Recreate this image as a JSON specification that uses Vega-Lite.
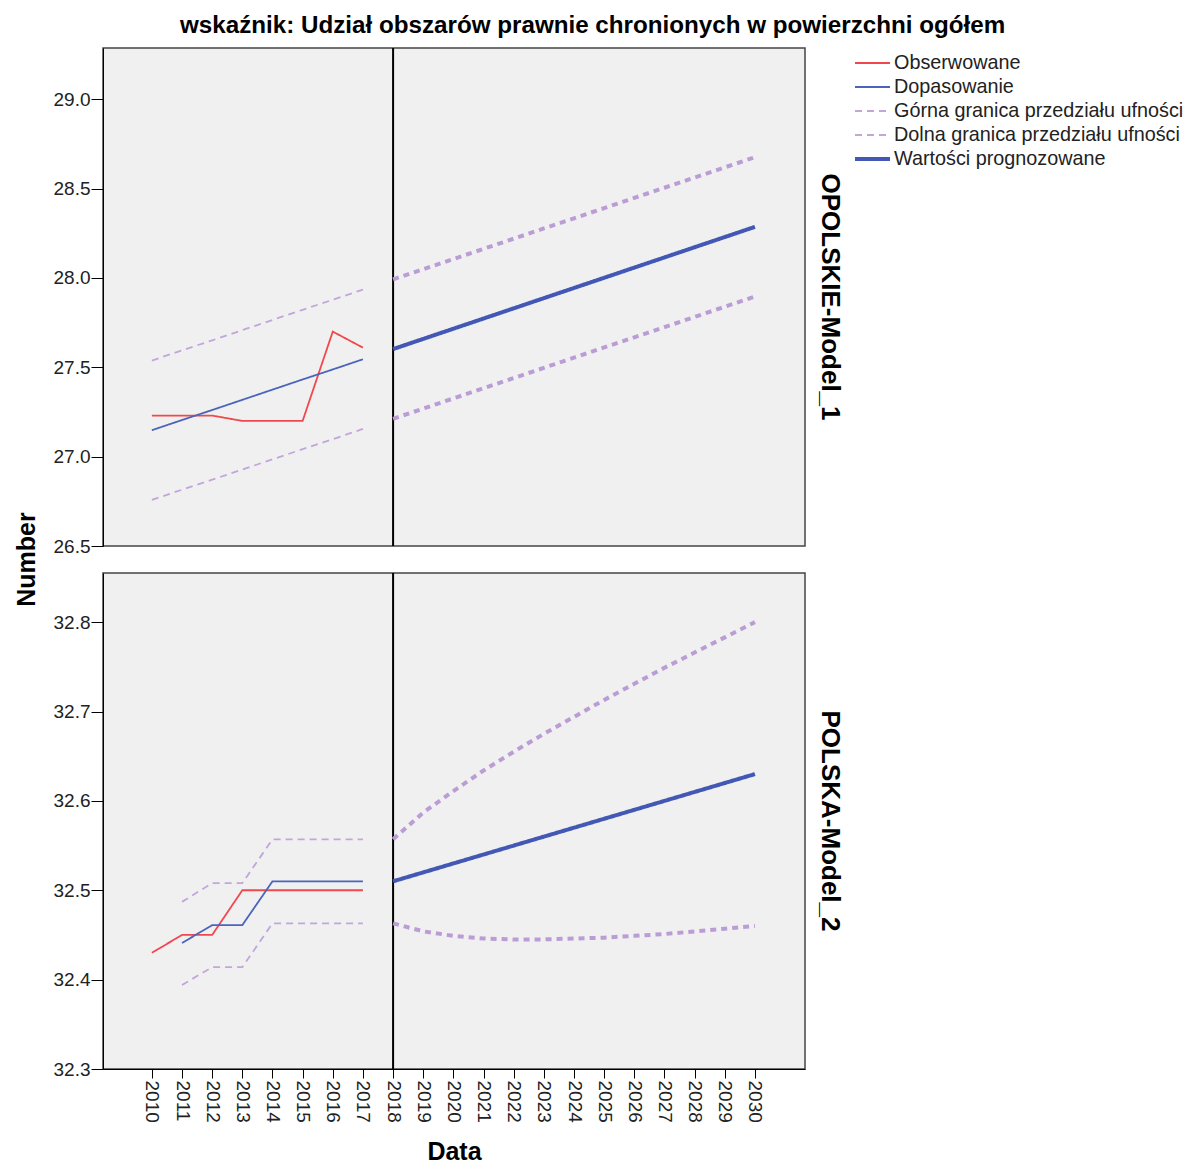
{
"$schema": "https://vega.github.io/schema/vega-lite/v6.json",
"padding": {"left": 13, "top": 14, "right": 2, "bottom": 0},
"background": "#ffffff",
"bounds": "flush",
"title": {"text": "wskaźnik: Udział obszarów prawnie chronionych w powierzchni ogółem", "font": "Liberation Sans", "fontSize": 24.2, "fontWeight": "bold", "color": "#000", "anchor": "middle", "offset": 8, "dx": -8},
"config": {
 "font": "Liberation Sans",
 "view": {"fill": "#f0f0f0", "stroke": "#444", "strokeWidth": 1.5},
 "axis": {"labelFont": "Liberation Sans", "labelFontSize": 19, "labelColor": "#222", "tickColor": "#000", "tickSize": 9, "domainColor": "#000", "titleFont": "Liberation Sans", "titleFontSize": 25, "titleFontWeight": "bold", "titleColor": "#000", "grid": false, "labelPadding": 2},
 "legend": {"orient": "right", "offset": 5, "labelFont": "Liberation Sans", "labelFontSize": 19.8, "labelColor": "#222", "symbolType": "stroke", "symbolSize": 1225, "clipHeight": 22, "rowPadding": 2, "labelOffset": 2, "padding": 4, "labelLimit": 400},
 "title": {"font": "Liberation Sans"}
},
"datasets": {"d": [
 {"p":1,"s":"Obserwowane","year":2010,"v":27.23},{"p":1,"s":"Obserwowane","year":2011,"v":27.23},{"p":1,"s":"Obserwowane","year":2012,"v":27.23},{"p":1,"s":"Obserwowane","year":2013,"v":27.2},{"p":1,"s":"Obserwowane","year":2014,"v":27.2},{"p":1,"s":"Obserwowane","year":2015,"v":27.2},{"p":1,"s":"Obserwowane","year":2016,"v":27.7},{"p":1,"s":"Obserwowane","year":2017,"v":27.61},
 {"p":1,"s":"Dopasowanie","year":2010,"v":27.148},{"p":1,"s":"Dopasowanie","year":2011,"v":27.205},{"p":1,"s":"Dopasowanie","year":2012,"v":27.261},{"p":1,"s":"Dopasowanie","year":2013,"v":27.318},{"p":1,"s":"Dopasowanie","year":2014,"v":27.375},{"p":1,"s":"Dopasowanie","year":2015,"v":27.432},{"p":1,"s":"Dopasowanie","year":2016,"v":27.488},{"p":1,"s":"Dopasowanie","year":2017,"v":27.545},
 {"p":1,"s":"Górna granica przedziału ufności","year":2010,"v":27.538},{"p":1,"s":"Górna granica przedziału ufności","year":2011,"v":27.595},{"p":1,"s":"Górna granica przedziału ufności","year":2012,"v":27.651},{"p":1,"s":"Górna granica przedziału ufności","year":2013,"v":27.708},{"p":1,"s":"Górna granica przedziału ufności","year":2014,"v":27.765},{"p":1,"s":"Górna granica przedziału ufności","year":2015,"v":27.822},{"p":1,"s":"Górna granica przedziału ufności","year":2016,"v":27.878},{"p":1,"s":"Górna granica przedziału ufności","year":2017,"v":27.935},
 {"p":1,"s":"Dolna granica przedziału ufności","year":2010,"v":26.758},{"p":1,"s":"Dolna granica przedziału ufności","year":2011,"v":26.815},{"p":1,"s":"Dolna granica przedziału ufności","year":2012,"v":26.871},{"p":1,"s":"Dolna granica przedziału ufności","year":2013,"v":26.928},{"p":1,"s":"Dolna granica przedziału ufności","year":2014,"v":26.985},{"p":1,"s":"Dolna granica przedziału ufności","year":2015,"v":27.042},{"p":1,"s":"Dolna granica przedziału ufności","year":2016,"v":27.098},{"p":1,"s":"Dolna granica przedziału ufności","year":2017,"v":27.155},
 {"p":1,"s":"Wartości prognozowane","year":2018,"v":27.602},{"p":1,"s":"Wartości prognozowane","year":2019,"v":27.659},{"p":1,"s":"Wartości prognozowane","year":2020,"v":27.716},{"p":1,"s":"Wartości prognozowane","year":2021,"v":27.773},{"p":1,"s":"Wartości prognozowane","year":2022,"v":27.83},{"p":1,"s":"Wartości prognozowane","year":2023,"v":27.887},{"p":1,"s":"Wartości prognozowane","year":2024,"v":27.944},{"p":1,"s":"Wartości prognozowane","year":2025,"v":28.001},{"p":1,"s":"Wartości prognozowane","year":2026,"v":28.058},{"p":1,"s":"Wartości prognozowane","year":2027,"v":28.115},{"p":1,"s":"Wartości prognozowane","year":2028,"v":28.172},{"p":1,"s":"Wartości prognozowane","year":2029,"v":28.229},{"p":1,"s":"Wartości prognozowane","year":2030,"v":28.286},
 {"p":1,"s":"fcU","year":2018,"v":27.992},{"p":1,"s":"fcU","year":2019,"v":28.049},{"p":1,"s":"fcU","year":2020,"v":28.106},{"p":1,"s":"fcU","year":2021,"v":28.163},{"p":1,"s":"fcU","year":2022,"v":28.22},{"p":1,"s":"fcU","year":2023,"v":28.277},{"p":1,"s":"fcU","year":2024,"v":28.334},{"p":1,"s":"fcU","year":2025,"v":28.391},{"p":1,"s":"fcU","year":2026,"v":28.448},{"p":1,"s":"fcU","year":2027,"v":28.505},{"p":1,"s":"fcU","year":2028,"v":28.562},{"p":1,"s":"fcU","year":2029,"v":28.619},{"p":1,"s":"fcU","year":2030,"v":28.676},
 {"p":1,"s":"fcL","year":2018,"v":27.212},{"p":1,"s":"fcL","year":2019,"v":27.269},{"p":1,"s":"fcL","year":2020,"v":27.326},{"p":1,"s":"fcL","year":2021,"v":27.383},{"p":1,"s":"fcL","year":2022,"v":27.44},{"p":1,"s":"fcL","year":2023,"v":27.497},{"p":1,"s":"fcL","year":2024,"v":27.554},{"p":1,"s":"fcL","year":2025,"v":27.611},{"p":1,"s":"fcL","year":2026,"v":27.668},{"p":1,"s":"fcL","year":2027,"v":27.725},{"p":1,"s":"fcL","year":2028,"v":27.782},{"p":1,"s":"fcL","year":2029,"v":27.839},{"p":1,"s":"fcL","year":2030,"v":27.896},
 {"p":2,"s":"Obserwowane","year":2010,"v":32.43},{"p":2,"s":"Obserwowane","year":2011,"v":32.45},{"p":2,"s":"Obserwowane","year":2012,"v":32.45},{"p":2,"s":"Obserwowane","year":2013,"v":32.5},{"p":2,"s":"Obserwowane","year":2014,"v":32.5},{"p":2,"s":"Obserwowane","year":2015,"v":32.5},{"p":2,"s":"Obserwowane","year":2016,"v":32.5},{"p":2,"s":"Obserwowane","year":2017,"v":32.5},
 {"p":2,"s":"Dopasowanie","year":2011,"v":32.441},{"p":2,"s":"Dopasowanie","year":2012,"v":32.461},{"p":2,"s":"Dopasowanie","year":2013,"v":32.461},{"p":2,"s":"Dopasowanie","year":2014,"v":32.51},{"p":2,"s":"Dopasowanie","year":2015,"v":32.51},{"p":2,"s":"Dopasowanie","year":2016,"v":32.51},{"p":2,"s":"Dopasowanie","year":2017,"v":32.51},
 {"p":2,"s":"Górna granica przedziału ufności","year":2011,"v":32.487},{"p":2,"s":"Górna granica przedziału ufności","year":2012,"v":32.508},{"p":2,"s":"Górna granica przedziału ufności","year":2013,"v":32.508},{"p":2,"s":"Górna granica przedziału ufności","year":2014,"v":32.557},{"p":2,"s":"Górna granica przedziału ufności","year":2015,"v":32.557},{"p":2,"s":"Górna granica przedziału ufności","year":2016,"v":32.557},{"p":2,"s":"Górna granica przedziału ufności","year":2017,"v":32.557},
 {"p":2,"s":"Dolna granica przedziału ufności","year":2011,"v":32.394},{"p":2,"s":"Dolna granica przedziału ufności","year":2012,"v":32.414},{"p":2,"s":"Dolna granica przedziału ufności","year":2013,"v":32.414},{"p":2,"s":"Dolna granica przedziału ufności","year":2014,"v":32.463},{"p":2,"s":"Dolna granica przedziału ufności","year":2015,"v":32.463},{"p":2,"s":"Dolna granica przedziału ufności","year":2016,"v":32.463},{"p":2,"s":"Dolna granica przedziału ufności","year":2017,"v":32.463},
 {"p":2,"s":"Wartości prognozowane","year":2018,"v":32.51},{"p":2,"s":"Wartości prognozowane","year":2019,"v":32.52},{"p":2,"s":"Wartości prognozowane","year":2020,"v":32.53},{"p":2,"s":"Wartości prognozowane","year":2021,"v":32.54},{"p":2,"s":"Wartości prognozowane","year":2022,"v":32.55},{"p":2,"s":"Wartości prognozowane","year":2023,"v":32.56},{"p":2,"s":"Wartości prognozowane","year":2024,"v":32.57},{"p":2,"s":"Wartości prognozowane","year":2025,"v":32.58},{"p":2,"s":"Wartości prognozowane","year":2026,"v":32.59},{"p":2,"s":"Wartości prognozowane","year":2027,"v":32.6},{"p":2,"s":"Wartości prognozowane","year":2028,"v":32.61},{"p":2,"s":"Wartości prognozowane","year":2029,"v":32.62},{"p":2,"s":"Wartości prognozowane","year":2030,"v":32.63},
 {"p":2,"s":"fcU","year":2018,"v":32.557},{"p":2,"s":"fcU","year":2019,"v":32.587},{"p":2,"s":"fcU","year":2020,"v":32.611},{"p":2,"s":"fcU","year":2021,"v":32.634},{"p":2,"s":"fcU","year":2022,"v":32.655},{"p":2,"s":"fcU","year":2023,"v":32.675},{"p":2,"s":"fcU","year":2024,"v":32.694},{"p":2,"s":"fcU","year":2025,"v":32.713},{"p":2,"s":"fcU","year":2026,"v":32.731},{"p":2,"s":"fcU","year":2027,"v":32.749},{"p":2,"s":"fcU","year":2028,"v":32.766},{"p":2,"s":"fcU","year":2029,"v":32.783},{"p":2,"s":"fcU","year":2030,"v":32.8},
 {"p":2,"s":"fcL","year":2018,"v":32.463},{"p":2,"s":"fcL","year":2019,"v":32.454},{"p":2,"s":"fcL","year":2020,"v":32.449},{"p":2,"s":"fcL","year":2021,"v":32.446},{"p":2,"s":"fcL","year":2022,"v":32.445},{"p":2,"s":"fcL","year":2023,"v":32.445},{"p":2,"s":"fcL","year":2024,"v":32.446},{"p":2,"s":"fcL","year":2025,"v":32.447},{"p":2,"s":"fcL","year":2026,"v":32.449},{"p":2,"s":"fcL","year":2027,"v":32.451},{"p":2,"s":"fcL","year":2028,"v":32.454},{"p":2,"s":"fcL","year":2029,"v":32.457},{"p":2,"s":"fcL","year":2030,"v":32.46}
],
"split": [{"year": 2018}]
},
"spacing": 27,
"vconcat": [
 {
  "width": 702, "height": 498,
  "title": {"text": "OPOLSKIE-Model_1", "orient": "right", "anchor": "middle", "angle": 90, "fontSize": 26, "fontWeight": "bold", "color": "#000", "offset": 12},
  "layer": [
   {"data": {"name": "split"}, "mark": {"type": "rule", "color": "#000", "strokeWidth": 2},
    "encoding": {"x": {"field": "year", "type": "quantitative", "scale": {"domain": [2008.38, 2031.66], "nice": false, "zero": false}, "axis": null}}},
   {"data": {"name": "d"}, "transform": [{"filter": "datum.p == 1 && (datum.s == 'fcU' || datum.s == 'fcL')"}],
    "mark": {"type": "line", "color": "#bb9dd6", "strokeWidth": 4, "strokeDash": [6, 5]},
    "encoding": {
     "x": {"field": "year", "type": "quantitative", "scale": {"domain": [2008.38, 2031.66], "nice": false, "zero": false}, "axis": null},
     "y": {"field": "v", "type": "quantitative", "scale": {"domain": [26.5, 29.287], "nice": false, "zero": false}, "axis": {"values": [26.5, 27.0, 27.5, 28.0, 28.5, 29.0], "format": ".1f", "title": "Number", "titleY": 511, "titlePadding": 14, "tickSize": 12, "labelPadding": 1}},
     "detail": {"field": "s", "type": "nominal"}}},
   {"data": {"name": "d"}, "transform": [{"filter": "datum.p == 1 && datum.s != 'fcU' && datum.s != 'fcL'"}],
    "mark": {"type": "line"},
    "encoding": {
     "x": {"field": "year", "type": "quantitative", "scale": {"domain": [2008.38, 2031.66], "nice": false, "zero": false}, "axis": null},
     "y": {"field": "v", "type": "quantitative", "scale": {"domain": [26.5, 29.287], "nice": false, "zero": false}, "axis": {"values": [26.5, 27.0, 27.5, 28.0, 28.5, 29.0], "format": ".1f", "title": "Number", "titleY": 511, "titlePadding": 14, "tickSize": 12, "labelPadding": 1}},
     "color": {"field": "s", "type": "nominal", "title": null, "scale": {"domain": ["Obserwowane", "Dopasowanie", "Górna granica przedziału ufności", "Dolna granica przedziału ufności", "Wartości prognozowane"], "range": ["#f0484e", "#4a64bc", "#c2a6da", "#c2a6da", "#4258b4"]}},
     "strokeDash": {"field": "s", "type": "nominal", "title": null, "scale": {"domain": ["Obserwowane", "Dopasowanie", "Górna granica przedziału ufności", "Dolna granica przedziału ufności", "Wartości prognozowane"], "range": [[1, 0], [1, 0], [7, 5], [7, 5], [1, 0]]}},
     "strokeWidth": {"field": "s", "type": "nominal", "title": null, "scale": {"type": "ordinal", "domain": ["Obserwowane", "Dopasowanie", "Górna granica przedziału ufności", "Dolna granica przedziału ufności", "Wartości prognozowane"], "range": [1.8, 1.8, 1.8, 1.8, 4]}}}}
  ]
 },
 {
  "width": 702, "height": 496,
  "title": {"text": "POLSKA-Model_2", "orient": "right", "anchor": "middle", "angle": 90, "fontSize": 26, "fontWeight": "bold", "color": "#000", "offset": 12},
  "layer": [
   {"data": {"name": "split"}, "mark": {"type": "rule", "color": "#000", "strokeWidth": 2},
    "encoding": {"x": {"field": "year", "type": "quantitative", "scale": {"domain": [2008.38, 2031.66], "nice": false, "zero": false}, "axis": {"values": [2010,2011,2012,2013,2014,2015,2016,2017,2018,2019,2020,2021,2022,2023,2024,2025,2026,2027,2028,2029,2030], "format": "d", "labelAngle": 90, "labelAlign": "left", "labelBaseline": "middle", "title": "Data", "titlePadding": 17}}}},
   {"data": {"name": "d"}, "transform": [{"filter": "datum.p == 2 && (datum.s == 'fcU' || datum.s == 'fcL')"}],
    "mark": {"type": "line", "color": "#bb9dd6", "strokeWidth": 4, "strokeDash": [6, 5]},
    "encoding": {
     "x": {"field": "year", "type": "quantitative", "scale": {"domain": [2008.38, 2031.66], "nice": false, "zero": false}, "axis": {"values": [2010,2011,2012,2013,2014,2015,2016,2017,2018,2019,2020,2021,2022,2023,2024,2025,2026,2027,2028,2029,2030], "format": "d", "labelAngle": 90, "labelAlign": "left", "labelBaseline": "middle", "title": "Data", "titlePadding": 17}},
     "y": {"field": "v", "type": "quantitative", "scale": {"domain": [32.3, 32.855], "nice": false, "zero": false}, "axis": {"values": [32.3, 32.4, 32.5, 32.6, 32.7, 32.8], "format": ".1f", "title": null, "tickSize": 12, "labelPadding": 1}},
     "detail": {"field": "s", "type": "nominal"}}},
   {"data": {"name": "d"}, "transform": [{"filter": "datum.p == 2 && datum.s != 'fcU' && datum.s != 'fcL'"}],
    "mark": {"type": "line"},
    "encoding": {
     "x": {"field": "year", "type": "quantitative", "scale": {"domain": [2008.38, 2031.66], "nice": false, "zero": false}, "axis": {"values": [2010,2011,2012,2013,2014,2015,2016,2017,2018,2019,2020,2021,2022,2023,2024,2025,2026,2027,2028,2029,2030], "format": "d", "labelAngle": 90, "labelAlign": "left", "labelBaseline": "middle", "title": "Data", "titlePadding": 17}},
     "y": {"field": "v", "type": "quantitative", "scale": {"domain": [32.3, 32.855], "nice": false, "zero": false}, "axis": {"values": [32.3, 32.4, 32.5, 32.6, 32.7, 32.8], "format": ".1f", "title": null, "tickSize": 12, "labelPadding": 1}},
     "color": {"field": "s", "type": "nominal", "title": null, "scale": {"domain": ["Obserwowane", "Dopasowanie", "Górna granica przedziału ufności", "Dolna granica przedziału ufności", "Wartości prognozowane"], "range": ["#f0484e", "#4a64bc", "#c2a6da", "#c2a6da", "#4258b4"]}},
     "strokeDash": {"field": "s", "type": "nominal", "title": null, "scale": {"domain": ["Obserwowane", "Dopasowanie", "Górna granica przedziału ufności", "Dolna granica przedziału ufności", "Wartości prognozowane"], "range": [[1, 0], [1, 0], [7, 5], [7, 5], [1, 0]]}},
     "strokeWidth": {"field": "s", "type": "nominal", "title": null, "scale": {"type": "ordinal", "domain": ["Obserwowane", "Dopasowanie", "Górna granica przedziału ufności", "Dolna granica przedziału ufności", "Wartości prognozowane"], "range": [1.8, 1.8, 1.8, 1.8, 4]}}}}
  ]
 }
]
}
